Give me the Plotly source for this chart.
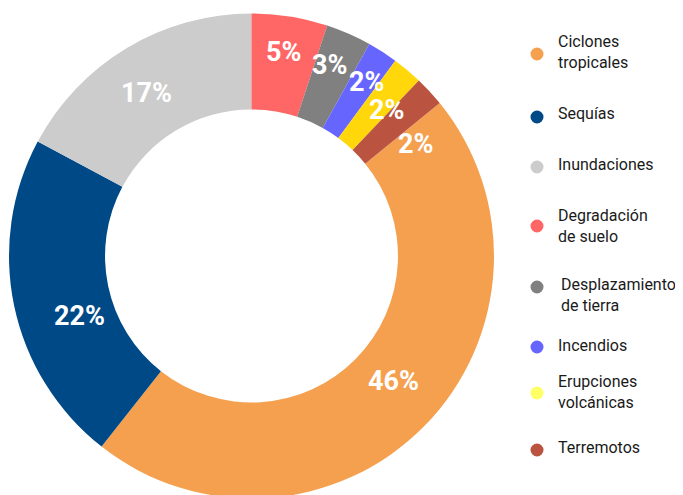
import math
import plotly.graph_objects as go

labels = ["Ciclones<br>tropicales", "Sequías", "Inundaciones", "Degradación<br>de suelo",
          "Desplazamiento<br>de tierra", "Incendios", "Erupciones<br>volcánicas", "Terremotos"]
values = [46, 22, 17, 5, 3, 2, 2, 2]
slice_colors = ["#F5A04F", "#004987", "#CCCCCC", "#FF6666", "#808080", "#6666FF", "#FFD70A", "#BA5440"]
legend_colors = ["#F5A04F", "#004987", "#CCCCCC", "#FF6666", "#808080", "#6666FF", "#FFFF66", "#BA5440"]

W, H = 683, 495
OFF = 8  # page body margin of the browser
CX, CY, R = 251.5 - OFF, 256 - OFF, 242.5   # pie centre / outer radius (figure px)
HOLE = 0.604

# label placement tweaks (fraction of outer radius, angle nudge in degrees)
label_r = [0.78, 0.75, 0.80, 0.85, 0.85, 0.86, 0.82, 0.82]
label_dtheta = [-3.0, -7.5, -1.8, -0.3, -1.3, 0.9, 2.6, 8.3]

total = sum(values)
start_share = sum(values[3:]) / total   # Ciclones starts after the small slices

fig = go.Figure()
fig.add_trace(go.Pie(
    labels=labels, values=values, sort=False, direction="clockwise",
    rotation=start_share * 360, hole=HOLE,
    marker=dict(colors=slice_colors, line=dict(width=0)),
    textinfo="none",
    domain=dict(x=[(CX - R) / W, (CX + R) / W], y=[1 - (CY + R) / H, 1 - (CY - R) / H]),
    showlegend=False, hoverinfo="label+percent",
))

annotations = []
cum = start_share * total
for v, rf, dt in zip(values, label_r, label_dtheta):
    mid = (cum + v / 2) / total * 360 + dt
    cum += v
    th = math.radians(mid)
    x = CX + rf * R * math.sin(th)
    y = CY - rf * R * math.cos(th)
    annotations.append(dict(text=f"{v}%", xref="paper", yref="paper", x=x / W, y=1 - y / H,
                            xanchor="center", yanchor="middle", showarrow=False,
                            font=dict(family="Roboto, sans-serif", size=27, color="white", weight="bold")))

# legend: marker y, text y (pixels from top of the page), text x
legend_marker_y = [54, 117, 167, 226, 287, 347, 393, 450]
legend_text_y = [52, 113, 164, 226, 295, 345, 392, 447]
legend_text_x = [556, 556, 556, 556, 559, 556, 556, 556]
shapes = []
for lab, col, my, ty, tx in zip(labels, legend_colors, legend_marker_y, legend_text_y, legend_text_x):
    shapes.append(dict(type="circle", xref="paper", yref="paper", xsizemode="pixel", ysizemode="pixel",
                       xanchor=(537 - OFF) / W, yanchor=1 - (my - OFF) / H, x0=-6.5, x1=6.5, y0=-6.5, y1=6.5,
                       fillcolor=col, line=dict(width=0)))
    annotations.append(dict(text=lab, xref="paper", yref="paper", x=(tx - OFF) / W, y=1 - (ty - OFF) / H,
                            xanchor="left", yanchor="middle", align="left", showarrow=False,
                            font=dict(family="Roboto, sans-serif", size=16, color="#1a1a1a")))

fig.update_layout(
    width=W, height=H, margin=dict(l=0, r=0, t=0, b=0),
    paper_bgcolor="white", plot_bgcolor="white",
    shapes=shapes, annotations=annotations,
)
fig.write_html("out.html")
